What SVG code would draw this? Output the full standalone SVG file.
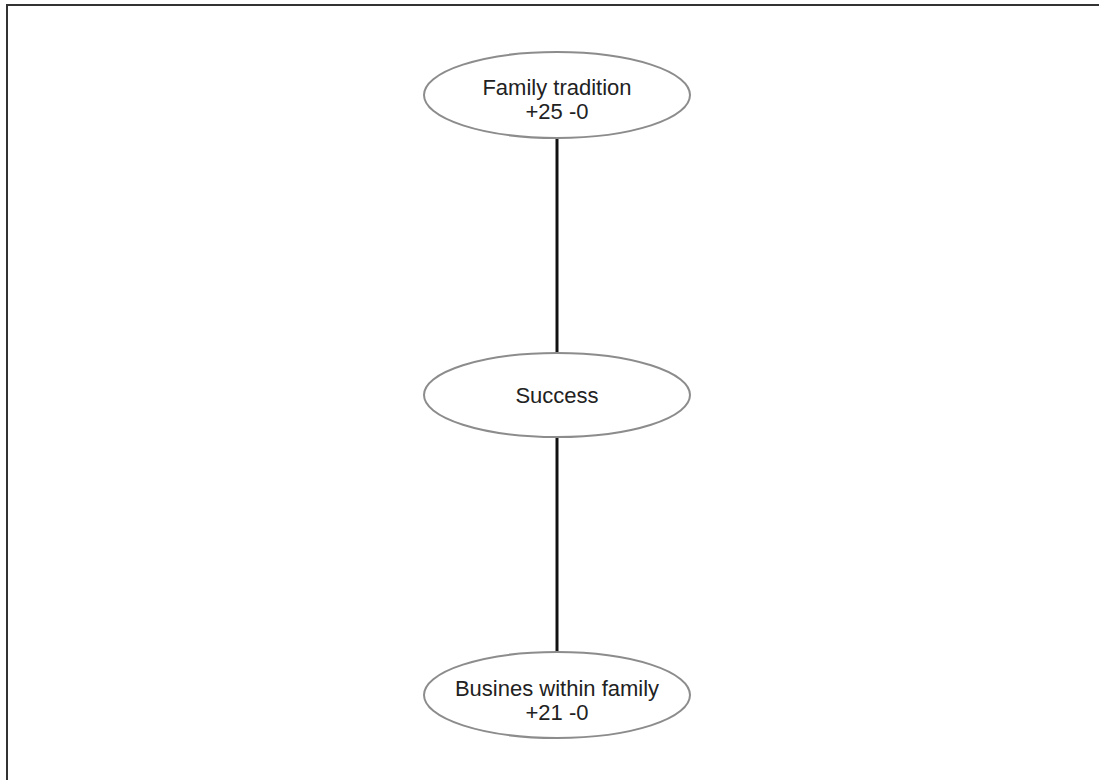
<svg xmlns="http://www.w3.org/2000/svg" width="1099" height="780" viewBox="0 0 1099 780">
  <style>
    .node ellipse { fill: #ffffff; stroke: #8c8c8c; stroke-width: 2; }
    .node text { font-family: "Liberation Sans", Arial, sans-serif; font-size: 22px; fill: #222222; text-anchor: middle; }
    .edge { stroke: #111111; stroke-width: 3; fill: none; }
    .frame { stroke: #333333; stroke-width: 2; fill: none; }
  </style>
  <rect width="1099" height="780" fill="#ffffff"/>
  <!-- page frame: top and left edges -->
  <path class="frame" d="M7,780 V5 H1099"/>
  <g id="connectors">
    <line class="edge" x1="557" y1="138" x2="557" y2="353"/>
    <line class="edge" x1="557" y1="437" x2="557" y2="653"/>
  </g>
  <g id="family-tradition" class="node">
    <ellipse cx="557" cy="95" rx="133" ry="43"/>
    <text x="557" y="95">Family tradition</text>
    <text x="557" y="119">+25 -0</text>
  </g>
  <g id="success" class="node">
    <ellipse cx="557" cy="395" rx="133" ry="42"/>
    <text x="557" y="403">Success</text>
  </g>
  <g id="busines-within-family" class="node">
    <ellipse cx="557" cy="695" rx="133" ry="43"/>
    <text x="557" y="696">Busines within family</text>
    <text x="557" y="720">+21 -0</text>
  </g>
</svg>
